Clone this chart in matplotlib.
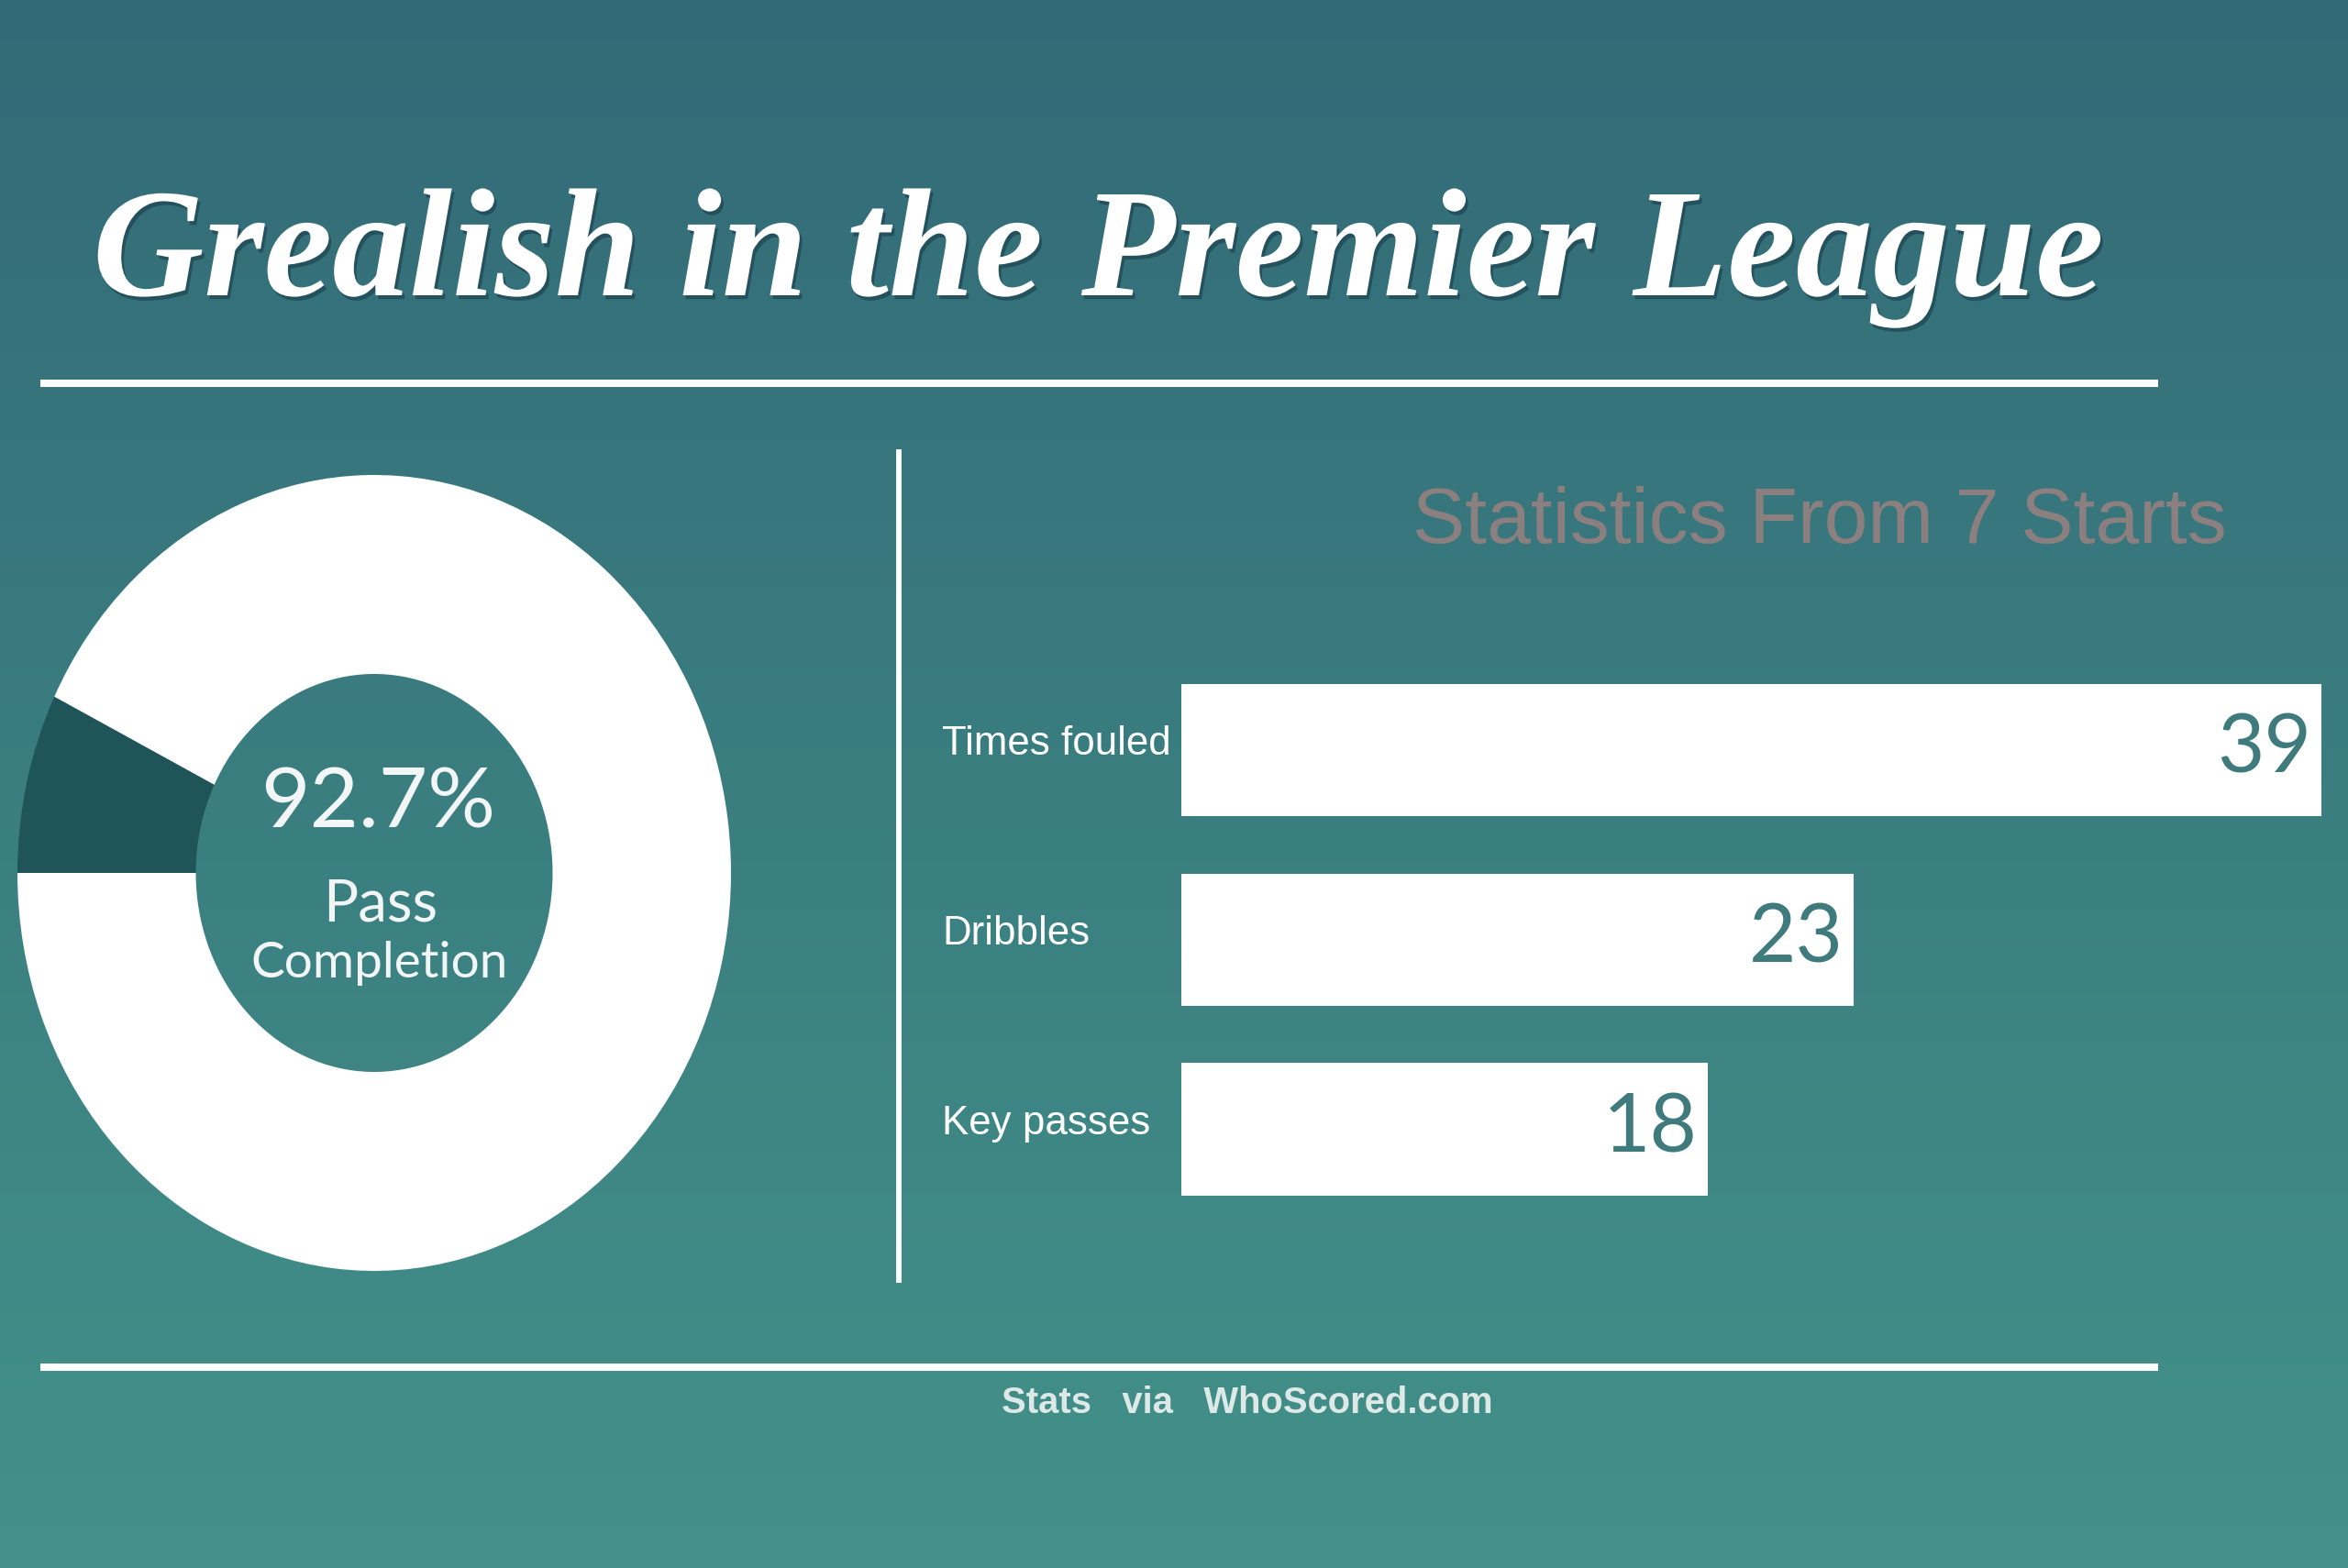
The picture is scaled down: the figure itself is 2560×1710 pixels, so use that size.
import matplotlib
matplotlib.use('Agg')
import matplotlib.pyplot as plt
import matplotlib.patheffects as pe
from matplotlib.colors import LinearSegmentedColormap
import numpy as np

# text of the infographic
title = 'Grealish in the Premier League'
subtitle = 'Statistics From 7 Starts'
source = 'Stats   via   WhoScored.com'

# donut: pass completion
pass_pct = 92.7
pass_label = ['Pass', 'Completion']

# bars
stat_names = ['Times fouled', 'Dribbles', 'Key passes']
stat_values = [39, 23, 18]

W, H = 2560, 1710
DPI = 100

fig = plt.figure(figsize=(W / DPI, H / DPI), dpi=DPI)


def px_axes(x0, y0, x1, y1):
    # axes from a pixel box (origin top-left)
    return fig.add_axes([x0 / W, 1 - y1 / H, (x1 - x0) / W, (y1 - y0) / H])


def fit_width(t, target):
    r = fig.canvas.get_renderer()
    w = t.get_window_extent(r).width
    t.set_fontsize(t.get_fontsize() * target / w)


# background gradient
bg = fig.add_axes([0, 0, 1, 1])
grad = np.linspace(0, 1, 256).reshape(-1, 1)
cmap = LinearSegmentedColormap.from_list('bg', ['#336a77', '#3a7e80', '#43918a'])
bg.imshow(grad, extent=[0, W, H, 0], aspect='auto', cmap=cmap, zorder=0)
bg.set_xlim(0, W)
bg.set_ylim(H, 0)
bg.axis('off')

# title
t = bg.text(101, 322, title, ha='left', va='baseline', color='white',
            family='Liberation Serif', fontweight='bold', style='italic', fontsize=100,
            path_effects=[pe.withSimplePatchShadow(offset=(2, -3), shadow_rgbFace='#1c4450', alpha=0.7)])
fit_width(t, 2193)

# separator lines
bg.plot([44, 2353], [418, 418], color='white', lw=5.8, solid_capstyle='butt')
bg.plot([44, 2353], [1491, 1491], color='white', lw=5.8, solid_capstyle='butt')
bg.plot([980, 980], [490, 1399], color='white', lw=4.2, solid_capstyle='butt')

# donut
pax = px_axes(408 - 389, 952 - 434, 408 + 389, 952 + 434)
pax.pie([pass_pct, 100 - pass_pct], colors=['white', '#1f5559'], startangle=180,
        counterclock=True, radius=1, wedgeprops=dict(width=0.5, linewidth=0))
pax.set_aspect('auto')
pax.set_xlim(-1, 1)
pax.set_ylim(-1, 1)
pax.axis('off')

t = bg.text(412, 877, f'{pass_pct}%', ha='center', va='center', color='#f2f6f6',
            family='Lato', fontsize=70)
fit_width(t, 256)
t = bg.text(415, 986, pass_label[0], ha='center', va='center', color='#f2f6f6',
            family='Lato', fontsize=40)
fit_width(t, 125)
t = bg.text(414, 1050, pass_label[1], ha='center', va='center', color='#f2f6f6',
            family='Lato', fontsize=40)
fit_width(t, 281)

# subtitle
t = bg.text(1984, 570, subtitle, ha='center', va='center', color='#8c7f80',
            family='Liberation Sans', fontsize=62)
fit_width(t, 888)

# bars
unit = 31.88
bax = px_axes(1288, 714.6, 1288 + 39.5 * unit, 1334.9)
ypos = np.arange(len(stat_values))
bax.barh(ypos, stat_values, height=0.697, color='white', linewidth=0)
bax.set_xlim(0, 39.5)
bax.set_ylim(2.5, -0.5)
bax.axis('off')

label_size = None
for i, (name, v) in enumerate(zip(stat_names, stat_values)):
    bax.text(v - 0.36, i, str(v), ha='right', va='center', color='#3f7b7d',
             family='Lato', fontsize=64)
    lt = bax.text(-8.19, i - 0.03, name, ha='left', va='center', color='white',
                  family=['Liberation Sans Narrow', 'Liberation Sans'], fontsize=36,
                  clip_on=False)
    if label_size is None:
        fit_width(lt, 250)
        label_size = lt.get_fontsize()
    else:
        lt.set_fontsize(label_size)

# footer
t = bg.text(1360, 1530, source, ha='center', va='center', color='#dde9e7',
            family='Liberation Sans', fontweight='bold', fontsize=33)
fit_width(t, 536)

fig.savefig('out.png', dpi=DPI)
